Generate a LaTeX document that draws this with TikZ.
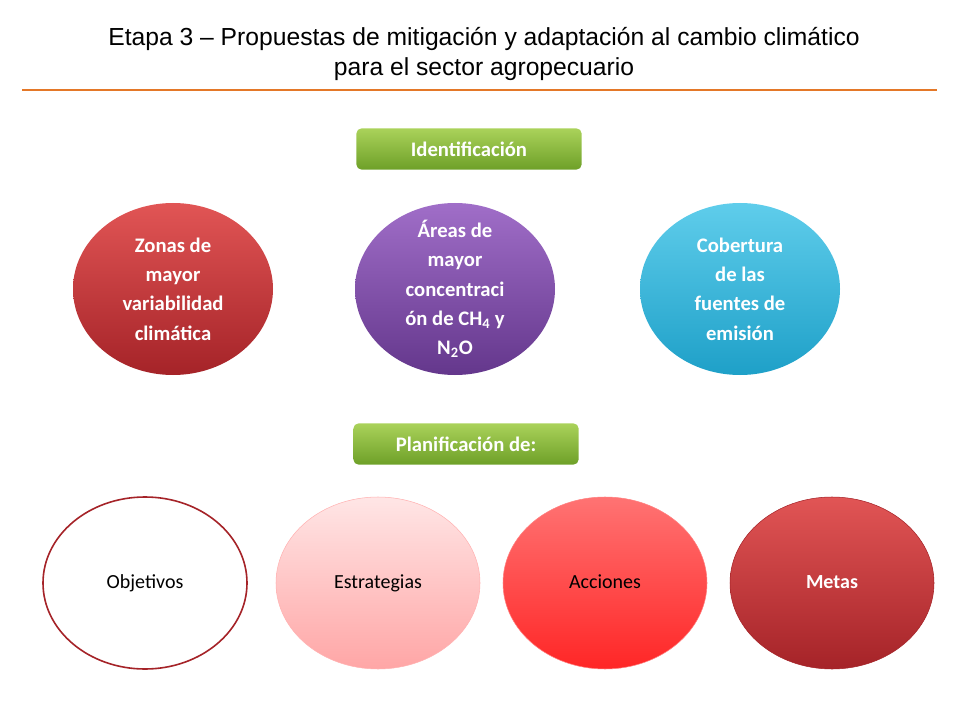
\documentclass[tikz,border=0pt]{standalone}
\usepackage{fontspec}
\setmainfont{Carlito}
\newfontfamily\titlefont{Liberation Sans}
\usetikzlibrary{shapes.geometric,positioning}
\definecolor{orangeline}{RGB}{228,120,40}
\definecolor{greentop}{RGB}{170,210,90}
\definecolor{greenbot}{RGB}{110,160,40}
\definecolor{redtop}{RGB}{225,85,85}
\definecolor{redbot}{RGB}{165,35,40}
\definecolor{violettop}{RGB}{160,110,200}
\definecolor{violetbot}{RGB}{100,55,140}
\definecolor{bluetop}{RGB}{95,205,235}
\definecolor{bluebot}{RGB}{30,160,200}
\tikzset{
  headbox/.style={draw=none,rounded corners=4pt,minimum width=169pt,minimum height=31pt,
    top color=greentop,bottom color=greenbot,
    text=white,font=\bfseries\fontsize{15.5}{18}\selectfont},
  blob/.style={ellipse,minimum width=150pt,minimum height=129pt},
  blobtext/.style={align=center,font=\bfseries\fontsize{15.5}{22}\selectfont,text=white},
  goal/.style={ellipse,minimum width=153pt,minimum height=129pt,
    text height=11pt,text depth=3pt,font=\fontsize{15}{18}\selectfont}
}
\begin{document}
\begin{tikzpicture}[x=0.75pt,y=-0.75pt]
\useasboundingbox (0,0) rectangle (960,720);
% title
\node (title) at (484,54) [align=center,font=\titlefont\fontsize{18.5}{23}\selectfont]
  {Etapa 3 – Propuestas de mitigación y adaptación al cambio climático\\para el sector agropecuario};
\draw[orangeline,line width=1.5pt] (22,90) -- (937,90);

% identification
\node[headbox] (ident) at (469,149) {Identificación};
\node[blob,top color=redtop,bottom color=redbot] (zonas) at (173,289) {};
\node[blobtext] at (zonas) {Zonas de\\mayor\\variabilidad\\climática};
\node[blob,top color=violettop,bottom color=violetbot] (areas) at (455,289) {};
\node[blobtext] at (areas) {Áreas de\\mayor\\concentraci\\ón de CH\textsubscript{4} y\\N\textsubscript{2}O};
\node[blob,top color=bluetop,bottom color=bluebot] (cober) at (740,289) {};
\node[blobtext] at (cober) {Cobertura\\de las\\fuentes de\\emisión};

% planning
\node[headbox] (plan) at (466,444) {Planificación de:};
\node[goal,draw=redbot,line width=1.2pt,fill=white] (obj) at (145,583) {Objetivos};
\node[goal,draw=red!30,top color=red!10,bottom color=red!35] (estr) at (378,583) {Estrategias};
\node[goal,draw=red!50,top color=red!55,bottom color=red!85] (acc) at (605,583) {Acciones};
\node[goal,draw=redbot,top color=redtop,bottom color=redbot,text=white] (metas) at (832,583) {\bfseries Metas};
\end{tikzpicture}
\end{document}
